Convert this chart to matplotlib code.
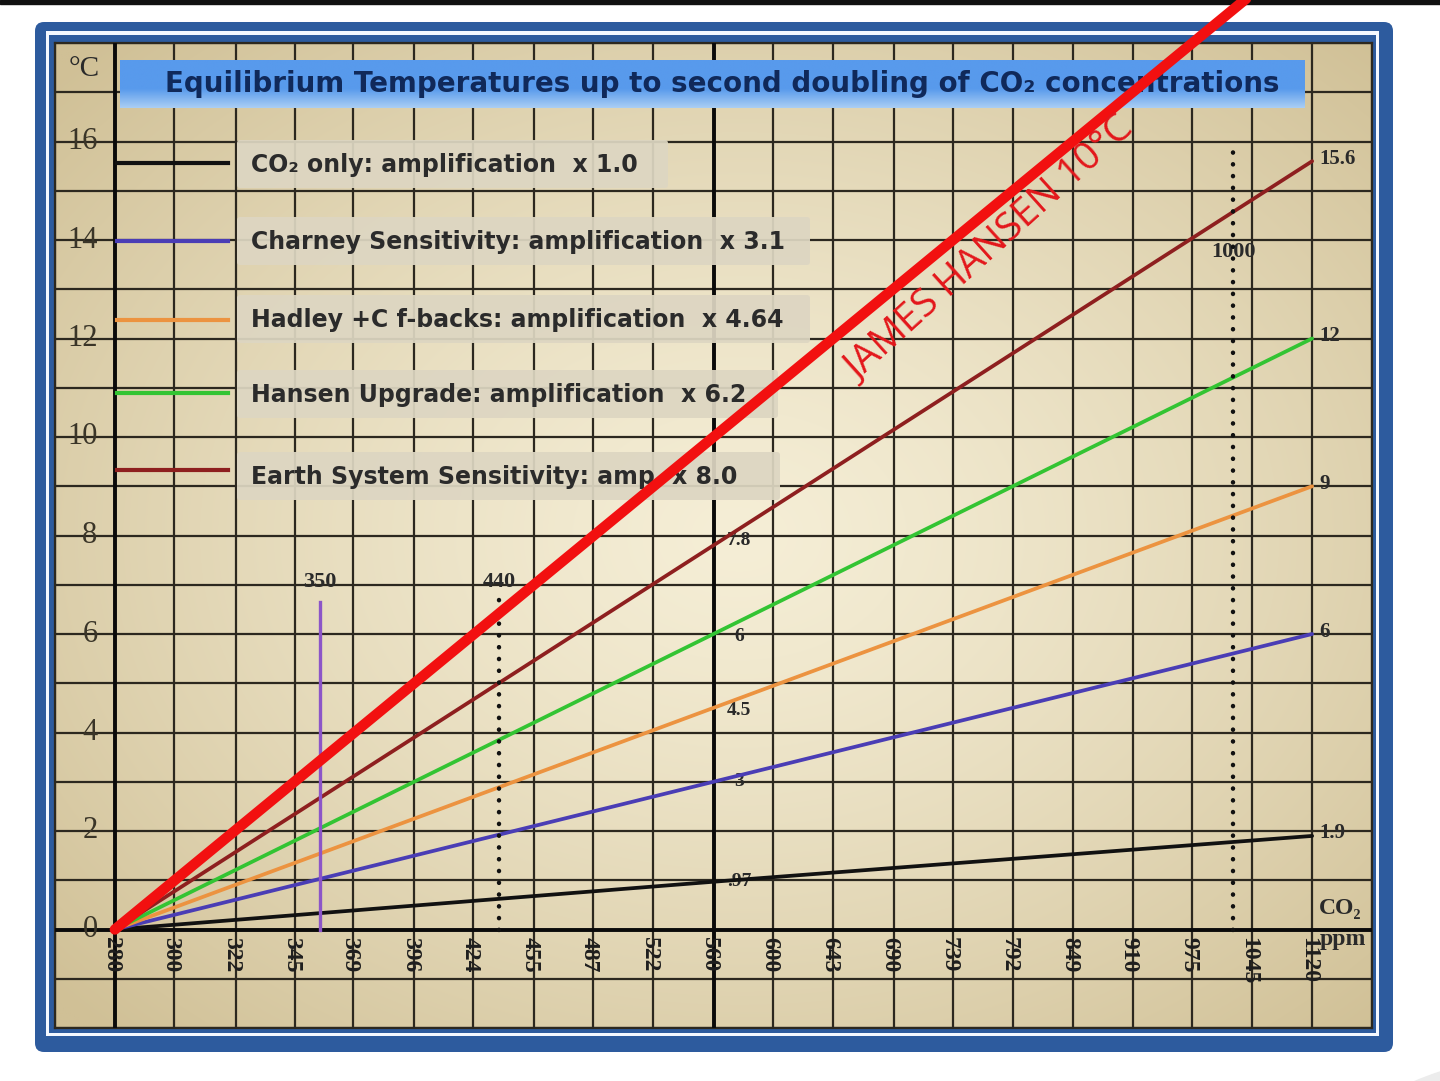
import numpy as np
import matplotlib
matplotlib.use("Agg")
import matplotlib.pyplot as plt
import matplotlib.transforms as mtransforms
from matplotlib.patches import FancyBboxPatch, Rectangle, Ellipse

# ---------------- data ----------------
ppm_ticks = [280, 300, 322, 345, 369, 396, 424, 455, 487, 522, 560,
             600, 643, 690, 739, 792, 849, 910, 975, 1045, 1120]
temp_ticks = [0, 2, 4, 6, 8, 10, 12, 14, 16]

series_ppm = [280, 560, 1120]
co2_only = [0, 0.97, 1.9]
charney = [0, 3, 6]
hadley = [0, 4.5, 9]
hansen_upgrade = [0, 6, 12]
earth_system = [0, 7.8, 15.6]

hansen10_ppm = [280, 560, 1120]
hansen10_temp = [0, 10, 20]

mid_labels = [".97", "3", "4.5", "6", "7.8"]
mid_values = [0.97, 3.0, 4.45, 5.95, 7.9]
end_labels = ["1.9", "6", "9", "12", "15.6"]
end_values = [1.9, 6, 9, 12, 15.6]

marker_ppm = [355, 437, 1022]
marker_top = [6.65, 6.75, 15.8]
marker_labels = ["350", "440", "1000"]
marker_label_y = [7.06, 7.06, 13.75]

legend_texts = ["CO\u2082 only: amplification  x 1.0",
                "Charney Sensitivity: amplification  x 3.1",
                "Hadley +C f-backs: amplification  x 4.64",
                "Hansen Upgrade: amplification  x 6.2",
                "Earth System Sensitivity: amp. x 8.0"]
series_colors = ["#111111", "#4a3db5", "#ec9340", "#33c433", "#8e1f1f"]

# ---------------- figure ----------------
W, H = 1440, 1081
fig = plt.figure(figsize=(W / 100, H / 100), dpi=100)
fig.patch.set_facecolor("white")
T = mtransforms.Affine2D().scale(1 / W, -1 / H).translate(0, 1) + fig.transFigure

def rect_fig(x0, y0, x1, y1):
    return [x0 / W, 1 - y1 / H, (x1 - x0) / W, (y1 - y0) / H]

# page decorations
fig.patches.append(Rectangle((0, 0), W, 4, transform=T, color="#111111", zorder=-9))
fig.patches.append(Ellipse((1580, 1240), 600, 380, transform=T, color="#ececec", zorder=-9))
fig.patches.append(FancyBboxPatch((35, 22), 1358, 1030, boxstyle="round,pad=0,rounding_size=9",
                                  transform=T, facecolor="#2d5b9e", edgecolor="none", zorder=-8))
fig.patches.append(Rectangle((46, 31), 1333, 1005, transform=T, facecolor="#f4f8ff",
                             edgecolor="none", zorder=-7))
fig.patches.append(Rectangle((49, 35), 1327, 998, transform=T, facecolor="#2d5b9e",
                             edgecolor="none", zorder=-6))

ax_rect = rect_fig(55, 43, 1372, 1028)

# background gradient
bg = fig.add_axes(ax_rect, zorder=0.5)
hh, ww = 300, 400
yy, xx = np.mgrid[0:1:hh * 1j, 0:1:ww * 1j]
r = np.sqrt(((xx - 0.52) / 0.70) ** 2 + ((yy - 0.5) / 0.70) ** 2)
r = np.clip(r, 0, 1) ** 1.3
c0 = np.array([245, 238, 214]) / 255
c1 = np.array([208, 192, 150]) / 255
img = c0 + (c1 - c0) * r[..., None]
bg.imshow(img, extent=[0, 1, 0, 1], aspect="auto", interpolation="bilinear")
bg.set_axis_off()

# main axes
ax = fig.add_axes(ax_rect, zorder=1)
ax.set_facecolor("none")
ax.set_xscale("log", base=2)
xmin = ppm_ticks[0] * 2 ** (-0.1)
xmax = ppm_ticks[-1] * 2 ** (0.1)
ax.set_xlim(xmin, xmax)
ax.set_ylim(-2, 18)
ax.set_xticks([xmin] + ppm_ticks + [xmax])
ax.set_yticks(range(-2, 19))
ax.xaxis.set_minor_locator(matplotlib.ticker.NullLocator())
ax.tick_params(length=0, labelbottom=False, labelleft=False)
ax.grid(True, color="#2c281f", lw=1.6)
for s in ax.spines.values():
    s.set_color("#2c281f")
    s.set_linewidth(1.6)

ax.axvline(ppm_ticks[0], color="#0a0a0a", lw=2.8, zorder=3)
ax.axvline(ppm_ticks[10], color="#0a0a0a", lw=2.8, zorder=3)
ax.axhline(0, color="#0a0a0a", lw=2.8, zorder=3)

series = [co2_only, charney, hadley, hansen_upgrade, earth_system]
for vals, col in zip(series, series_colors):
    ax.plot(series_ppm, vals, color=col, lw=2.7, zorder=4, solid_capstyle="round")

# marker lines
ax.plot([marker_ppm[0]] * 2, [0, marker_top[0]], color="#8c55c8", lw=2.4, zorder=4)
for p, top in zip(marker_ppm[1:], marker_top[1:]):
    ax.plot([p, p], [0, top], color="#111111", lw=3.2, zorder=5,
            linestyle=(0, (0.05, 2.6)), dash_capstyle="round")
for p, yl, lab in zip(marker_ppm, marker_label_y, marker_labels):
    ax.text(p, yl, lab, ha="center", va="center", fontsize=16, fontweight="bold",
            family="Liberation Serif", color="#2a2a2a", zorder=4)

serif = "Liberation Serif"
# x tick labels
for p in ppm_ticks:
    ax.text(p * 2 ** (-0.006), -0.15, str(p), rotation=-90, ha="center", va="top",
            fontsize=17, fontweight="bold", family=serif, color="#1e1e1e", zorder=6)
# y tick labels
for t in temp_ticks:
    ax.text(ppm_ticks[0] * 2 ** (-0.029), t, str(t), ha="right", va="center",
            fontsize=22, family=serif, color="#3a3528", zorder=6)
ax.text(ppm_ticks[0] * 2 ** (-0.052), 17.48, "\u00b0C", ha="center", va="center",
        fontsize=21, family=serif, color="#2a2a2a", zorder=6)

# mid labels at 560
for v, lab in zip(mid_values, mid_labels):
    ax.text(ppm_ticks[10] * 2 ** 0.043, v, lab, ha="center", va="center",
            fontsize=14, fontweight="bold", family=serif, color="#2a2a2a", zorder=2)
# end labels
for v, lab in zip(end_values, end_labels):
    ax.text(ppm_ticks[-1] * 2 ** 0.012, v + 0.05, lab, ha="left", va="center",
            fontsize=15, fontweight="bold", family=serif, color="#2a2a2a", zorder=6)
ax.text(ppm_ticks[-1] * 2 ** 0.047, 0.42, "CO\u2082", ha="center", va="center",
        fontsize=17, fontweight="bold", family=[serif, "DejaVu Serif"], color="#2a2a2a", zorder=6)
ax.text(ppm_ticks[-1] * 2 ** 0.052, -0.2, "ppm", ha="center", va="center",
        fontsize=17, fontweight="bold", family=serif, color="#2a2a2a", zorder=6)

# legend boxes (layout in pixel coordinates)
sans = ["DejaVu Sans"]
box_geom = [(140, 668), (217, 810), (295, 810), (370, 778), (452, 780)]
line_y = [163, 241, 320, 393, 470]
for (y0, x1), ly, txt, col in zip(box_geom, line_y, legend_texts, series_colors):
    ax.add_patch(FancyBboxPatch((237, y0), x1 - 237, 48, boxstyle="round,pad=0,rounding_size=3",
                                transform=T, facecolor="#ddd6c2", edgecolor="none",
                                alpha=0.93, zorder=7))
    ax.text(251, y0 + 25, txt, transform=T, ha="left", va="center", fontsize=17,
            fontweight="bold", family=sans, color="#2b2b2b", zorder=8)
    ax.plot([117, 228], [ly, ly], transform=T, color=col, lw=3, zorder=8, clip_on=False)

# title box
tax = fig.add_axes(rect_fig(120, 60, 1305, 108), zorder=2)
g = np.linspace(0, 1, 100)
top_c = np.array([88, 154, 236]) / 255
bot_c = np.array([170, 206, 244]) / 255
w = np.clip((g - 0.6) / 0.4, 0, 1)[:, None]
grad = top_c + (bot_c - top_c) * w
tax.imshow(grad[:, None, :].repeat(10, axis=1), extent=[0, 1, 0, 1], aspect="auto",
           origin="upper", interpolation="bilinear")
tax.set_axis_off()
fig.text(165 / W, 1 - 84 / H, "Equilibrium Temperatures up to second doubling of CO\u2082 concentrations",
         ha="left", va="center", fontsize=20, fontweight="bold",
         family=sans, color="#10295a", zorder=2.5)

# overlay: James Hansen line
ov = fig.add_axes(ax_rect, zorder=3, sharex=ax, sharey=ax)
ov.set_facecolor("none")
ov.set_axis_off()
ov.plot(hansen10_ppm, hansen10_temp, color="#f21010", lw=7.5, clip_on=False,
        solid_capstyle="round", zorder=10)
ov.text(990, 250, "JAMES HANSEN 10\u00b0C", transform=T, rotation=42, rotation_mode="anchor",
        ha="center", va="center", fontsize=28, family="Open Sans", color="#e3171b", zorder=11)

fig.savefig("out.png", dpi=100, facecolor="white")
